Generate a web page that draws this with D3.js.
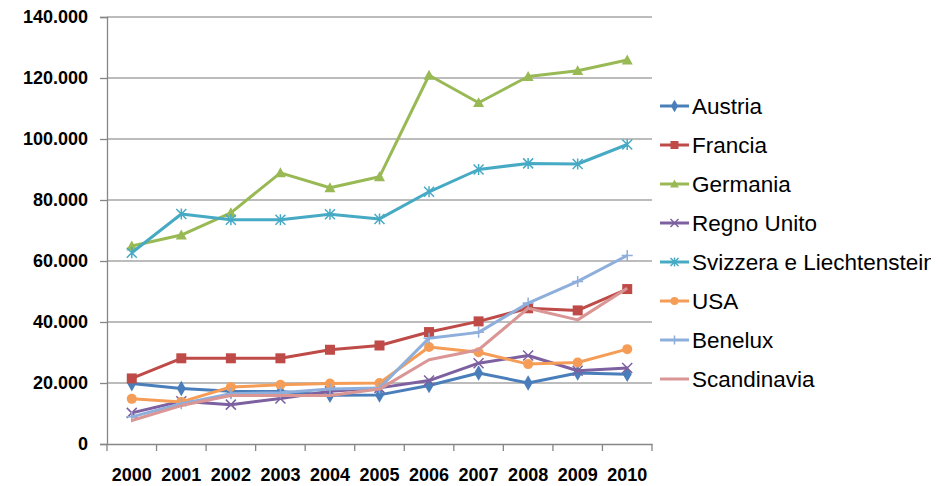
<!DOCTYPE html>
<html>
<head>
<meta charset="utf-8">
<script src="https://cdn.jsdelivr.net/npm/d3@7"></script>
<style>
  html, body { margin: 0; padding: 0; background: #fff; }
  svg { display: block; font-family: "Liberation Sans", Arial, sans-serif; }
</style>
</head>
<body>
<svg id="chart" width="947" height="486"></svg>
<script>
const years = ["2000","2001","2002","2003","2004","2005","2006","2007","2008","2009","2010"];
const yTicks = [0, 20000, 40000, 60000, 80000, 100000, 120000, 140000];

const austria     = [19800, 18200, 17300, 17200, 16000, 16100, 19200, 23300, 20000, 23300, 22900];
const francia     = [21500, 28100, 28100, 28100, 30900, 32300, 36700, 40200, 44500, 43800, 50800];
const germania    = [64900, 68500, 75800, 88900, 84000, 87600, 120900, 111900, 120500, 122400, 125900];
const regnoUnito  = [10200, 14000, 12900, 14900, 17300, 18400, 20800, 26500, 29000, 24000, 24900];
const svizzera    = [62700, 75400, 73500, 73500, 75300, 73800, 82700, 90000, 92000, 91800, 98200];
const usa         = [14800, 13800, 18700, 19400, 19800, 20000, 31800, 30100, 26200, 26700, 31100];
const benelux     = [8900, 13200, 16500, 16800, 18000, 18400, 34700, 36600, 46200, 53300, 61800];
const scandinavia = [7700, 12600, 15900, 15900, 15900, 18000, 27600, 30900, 44500, 40700, 51100];

const seriesNames = ["Austria","Francia","Germania","Regno Unito","Svizzera e Liechtenstein","USA","Benelux","Scandinavia"];
const seriesValues = [austria, francia, germania, regnoUnito, svizzera, usa, benelux, scandinavia];
const seriesColors = ["#4A7EBB","#BE4B48","#98B954","#7D60A0","#46AAC5","#F59D56","#8EAEDB","#D99694"];
const seriesMarkers = ["diamond","square","triangle","x","star","circle","plus","none"];

const svg = d3.select("#chart");
const L = 107, R = 652, T = 17, B = 444;

const x = d3.scaleBand().domain(years).range([L, R]).padding(0);
const xc = d => x(d) + x.bandwidth() / 2;
const y = d3.scaleLinear().domain([0, 140000]).range([B, T]);

const locale = d3.formatLocale({decimal: ",", thousands: ".", grouping: [3], currency: ["", ""]});
const fmt = locale.format(",");

// gridlines
svg.append("g")
  .selectAll("line").data(yTicks.filter(t => t > 0)).join("line")
  .attr("x1", L).attr("x2", R)
  .attr("y1", d => y(d)).attr("y2", d => y(d))
  .attr("stroke", "#a6a6a6").attr("stroke-width", 1.3);

// y axis
const yAxis = d3.axisLeft(y).tickValues(yTicks).tickSize(7).tickPadding(12).tickFormat(fmt);
const gy = svg.append("g").attr("transform", `translate(${L},0)`).call(yAxis);
gy.select(".domain").attr("stroke", "#868686").attr("stroke-width", 1.3);
gy.selectAll(".tick line").attr("stroke", "#868686").attr("stroke-width", 1.3);
gy.selectAll(".tick text").attr("font-size", 18).attr("font-weight", "bold").attr("fill", "#000")
  .attr("font-family", "Liberation Sans, Arial, sans-serif");

// x axis
const xAxis = d3.axisBottom(x).tickSize(0).tickPadding(24);
const gx = svg.append("g").attr("transform", `translate(0,${B})`).call(xAxis);
gx.select(".domain").attr("stroke", "#868686").attr("stroke-width", 1.3);
gx.selectAll(".tick text").attr("font-size", 18).attr("font-weight", "bold").attr("fill", "#000")
  .attr("font-family", "Liberation Sans, Arial, sans-serif");
// category boundary ticks
const bounds = years.map(d => x(d)).concat([R]);
gx.append("g").selectAll("line").data(bounds).join("line")
  .attr("x1", d => d).attr("x2", d => d).attr("y1", 0).attr("y2", 7)
  .attr("stroke", "#868686").attr("stroke-width", 1.3);

function drawMarker(g, type, color, cx, cy, s) {
  s = s || 1;
  if (type === "diamond") {
    g.append("path").attr("d", d3.symbol(d3.symbolDiamond, 70 * s * s)()).attr("transform", `translate(${cx},${cy})`).attr("fill", color);
  } else if (type === "square") {
    const h = 5 * s;
    g.append("rect").attr("x", cx - h).attr("y", cy - h).attr("width", 2 * h).attr("height", 2 * h).attr("fill", color);
  } else if (type === "triangle") {
    const h = 5.5 * s;
    g.append("path").attr("d", `M${cx},${cy - h}L${cx + h},${cy + h * 0.8}L${cx - h},${cy + h * 0.8}Z`).attr("fill", color);
  } else if (type === "circle") {
    g.append("circle").attr("cx", cx).attr("cy", cy).attr("r", 5 * s).attr("fill", color);
  } else if (type === "x") {
    const h = 5 * s;
    g.append("path").attr("d", `M${cx - h},${cy - h}L${cx + h},${cy + h}M${cx - h},${cy + h}L${cx + h},${cy - h}`)
      .attr("stroke", color).attr("stroke-width", 1.5).attr("fill", "none");
  } else if (type === "star") {
    const h = 5 * s;
    g.append("path").attr("d", `M${cx - h},${cy - h}L${cx + h},${cy + h}M${cx - h},${cy + h}L${cx + h},${cy - h}M${cx},${cy - h * 1.1}L${cx},${cy + h * 1.1}`)
      .attr("stroke", color).attr("stroke-width", 1.5).attr("fill", "none");
  } else if (type === "plus") {
    const h = 5.5 * s;
    g.append("path").attr("d", `M${cx - h},${cy}L${cx + h},${cy}M${cx},${cy - h}L${cx},${cy + h}`)
      .attr("stroke", color).attr("stroke-width", 1.5).attr("fill", "none");
  }
}

const line = d3.line().x((d, i) => xc(years[i])).y(d => y(d));

seriesValues.forEach((vals, si) => {
  const g = svg.append("g");
  g.append("path").datum(vals).attr("d", line)
    .attr("fill", "none").attr("stroke", seriesColors[si]).attr("stroke-width", 3)
    .attr("stroke-linejoin", "round");
  vals.forEach((v, i) => drawMarker(g, seriesMarkers[si], seriesColors[si], xc(years[i]), y(v), 1));
});

// legend
svg.append("defs").append("clipPath").attr("id", "legclip")
  .append("rect").attr("x", 650).attr("y", 0).attr("width", 281).attr("height", 486);
const leg = svg.append("g").attr("clip-path", "url(#legclip)");
const legY0 = 106, legStep = 39;
seriesNames.forEach((name, i) => {
  const cy = legY0 + i * legStep;
  const g = leg.append("g");
  g.append("line").attr("x1", 660).attr("x2", 689).attr("y1", cy).attr("y2", cy)
    .attr("stroke", seriesColors[i]).attr("stroke-width", 3);
  drawMarker(g, seriesMarkers[i], seriesColors[i], 674.5, cy, 0.8);
  g.append("text").attr("x", 692).attr("y", cy).attr("dy", "0.36em")
    .attr("font-size", 22.5).attr("fill", "#000").text(name);
});
</script>
</body>
</html>
